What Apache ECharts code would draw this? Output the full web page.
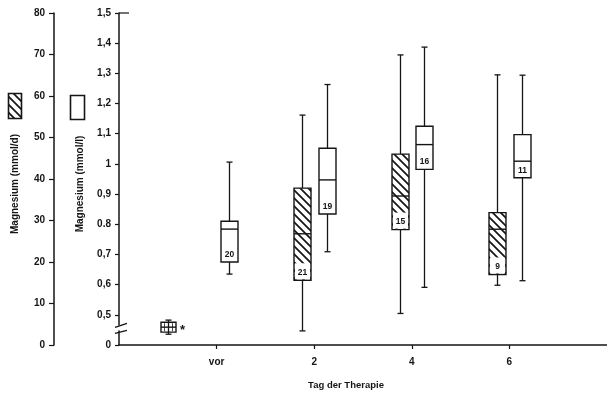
<!DOCTYPE html>
<html><head><meta charset="utf-8">
<script src="https://cdn.jsdelivr.net/npm/echarts@6/dist/echarts.min.js"></script>
<style>html,body{margin:0;padding:0;background:#fff}#c{width:607px;height:395px}</style>
</head><body><div id="c"></div>
<script>
// ---- data ----
const dayLabels = ['vor', '2', '4', '6'];
const dayPositions = [0, 1, 2, 3];
// hatched boxes: Magnesium (mmol/d)
const hatchedDays = [1, 2, 3];
const hatchedMin = [3.4, 7.6, 14.4];
const hatchedQ1 = [15.6, 27.8, 17.0];
const hatchedMedian = [26.8, 35.9, 27.9];
const hatchedQ3 = [37.8, 46.0, 31.9];
const hatchedMax = [55.4, 69.9, 65.1];
const hatchedN = [21, 15, 9];
// open boxes: Magnesium (mmol/l)
const openDays = [0, 1, 2, 3];
const openMin = [0.635, 0.709, 0.591, 0.613];
const openQ1 = [0.675, 0.834, 0.982, 0.954];
const openMedian = [0.784, 0.947, 1.064, 1.009];
const openQ3 = [0.81, 1.052, 1.125, 1.097];
const openMax = [1.006, 1.263, 1.387, 1.294];
const openN = [20, 19, 16, 11];
// reference box (mmol/d), marked *
const refPos = [-0.5];
const refMin = [2.6], refQ1 = [3.1], refMedian = [4.3], refQ3 = [5.5], refMax = [6.0];
// tick labels
const innerTickLabels = {4:'0',5:'0,5',6:'0,6',7:'0,7',8:'0.8',9:'0,9',10:'1',11:'1,1',12:'1,2',13:'1,3',14:'1,4',15:'1,5'};

const INK = '#151515';
const FONT = 'Liberation Sans';

function hatchPattern(){
  const c = document.createElement('canvas'); c.width = 8; c.height = 8;
  const g = c.getContext('2d'); g.fillStyle = '#fff'; g.fillRect(0,0,8,8);
  g.strokeStyle = INK; g.lineWidth = 1.7;
  g.beginPath();
  g.moveTo(-1,-1); g.lineTo(9,9);
  g.moveTo(-5,3); g.lineTo(5,13);
  g.moveTo(3,-5); g.lineTo(13,5);
  g.stroke();
  return {image: c, repeat: 'repeat'};
}
const HATCH = hatchPattern();

function makeRender(kind){
  return function(params, api){
    const off = kind === 'hatched' ? -0.125 : (kind === 'open' ? 0.13 : 0);
    const x = api.value(0) + off;
    const pMin = api.coord([x, api.value(1)]);
    const pQ1 = api.coord([x, api.value(2)]);
    const pMed = api.coord([x, api.value(3)]);
    const pQ3 = api.coord([x, api.value(4)]);
    const pMax = api.coord([x, api.value(5)]);
    const n = api.value(6);
    const w = kind === 'ref' ? 15 : 17;
    const cx = Math.round(pMin[0]) + 0.5, half = w / 2, cap = 3;
    const ls = {stroke: INK, lineWidth: 1.3};
    const ch = [
      {type:'line', shape:{x1:cx,y1:pMax[1],x2:cx,y2:pQ3[1]}, style:ls},
      {type:'line', shape:{x1:cx,y1:pQ1[1],x2:cx,y2:pMin[1]}, style:ls},
      {type:'line', shape:{x1:cx-cap,y1:pMax[1],x2:cx+cap,y2:pMax[1]}, style:ls},
      {type:'line', shape:{x1:cx-cap,y1:pMin[1],x2:cx+cap,y2:pMin[1]}, style:ls},
      {type:'rect', shape:{x:cx-half, y:pQ3[1], width:w, height:pQ1[1]-pQ3[1]},
        style:{fill: kind === 'hatched' ? HATCH : '#fff', stroke: INK, lineWidth: 1.4}}
    ];
    if (kind === 'hatched') {
      ch.push({type:'rect', shape:{x:cx-half+1, y:pQ1[1]-17, width:w-2, height:16}, style:{fill:'#fff'}});
    }
    ch.push({type:'line', shape:{x1:cx-half,y1:pMed[1],x2:cx+half,y2:pMed[1]}, style:{stroke: INK, lineWidth: 1.4}});
    if (kind === 'ref') {
      ch.push({type:'line', shape:{x1:cx,y1:pQ3[1],x2:cx,y2:pQ1[1]}, style:ls});
      ch.push({type:'line', shape:{x1:cx-half+3.5,y1:pQ3[1]+1,x2:cx-half+3.5,y2:pQ1[1]-1}, style:{stroke:INK,lineWidth:0.8}});
      ch.push({type:'line', shape:{x1:cx+half-3.5,y1:pQ3[1]+1,x2:cx+half-3.5,y2:pQ1[1]-1}, style:{stroke:INK,lineWidth:0.8}});
      ch.push({type:'text', style:{text:'*', x:cx+14, y:pMed[1]+3, align:'center', verticalAlign:'middle', fontSize:13, fontWeight:'bold', fontFamily:FONT, fill:INK}});
    }
    if (n) {
      ch.push({type:'text', style:{text:String(n), x:cx, y:pQ1[1]-3, align:'center', verticalAlign:'bottom',
        fontSize:8.5, fontWeight:'bold', fontFamily:FONT, fill:INK}});
    }
    return {type:'group', children: ch};
  };
}

const hatchedData = hatchedDays.map((d,i)=>[d, hatchedMin[i], hatchedQ1[i], hatchedMedian[i], hatchedQ3[i], hatchedMax[i], hatchedN[i]]);
const openData = openDays.map((d,i)=>[d, openMin[i], openQ1[i], openMedian[i], openQ3[i], openMax[i], openN[i]]);
const refData = refPos.map((d,i)=>[d, refMin[i], refQ1[i], refMedian[i], refQ3[i], refMax[i], 0]);

const chart = echarts.init(document.getElementById('c'), null, {renderer:'canvas'});
const labelStyle = {color: INK, fontSize: 10, fontWeight: 'bold', fontFamily: FONT};
chart.setOption({
  animation: false,
  backgroundColor: '#fff',
  grid: {left: 119, right: 0, top: 13, bottom: 49},
  xAxis: {
    type: 'value', min: -1, max: 4, interval: 1,
    axisLine: {show: true, onZero: false, lineStyle: {color: INK, width: 1.5}},
    axisTick: {show: true, customValues: dayPositions, length: 4, lineStyle: {color: INK, width: 1.2}},
    axisLabel: Object.assign({customValues: dayPositions, margin: 12, formatter: v => dayLabels[dayPositions.indexOf(Math.round(v))]}, labelStyle),
    splitLine: {show: false},
    name: 'Tag der Therapie', nameLocation: 'middle', nameGap: 35,
    nameTextStyle: {color: INK, fontSize: 9.5, fontWeight: 'bold', fontFamily: FONT, padding: [0, 34, 0, 0]}
  },
  yAxis: [
    {
      type: 'value', position: 'left', min: 0.4, max: 1.5, interval: 0.1,
      axisLine: {show: true, onZero: false, lineStyle: {color: INK, width: 1.5}},
      axisTick: {show: true, length: 4, lineStyle: {color: INK, width: 1.2}},
      axisLabel: Object.assign({margin: 8, formatter: v => innerTickLabels[Math.round(v*10)] || ''}, labelStyle),
      splitLine: {show: false},
      name: 'Magnesium (mmol/l)', nameLocation: 'middle', nameGap: 34, nameRotate: 90,
      nameTextStyle: {color: INK, fontSize: 10, fontWeight: 'bold', fontFamily: FONT, padding: [0, 10, 0, 0]}
    },
    {
      type: 'value', position: 'left', offset: 65, min: 0, max: 80, interval: 10,
      axisLine: {show: true, onZero: false, lineStyle: {color: INK, width: 1.5}},
      axisTick: {show: true, length: 5, lineStyle: {color: INK, width: 1.2}},
      axisLabel: Object.assign({margin: 9}, labelStyle),
      splitLine: {show: false},
      name: 'Magnesium (mmol/d)', nameLocation: 'middle', nameGap: 34, nameRotate: 90,
      nameTextStyle: {color: INK, fontSize: 10, fontWeight: 'bold', fontFamily: FONT, padding: [0, 10, 0, 0]}
    }
  ],
  series: [
    {type: 'custom', name: 'mmol/d', xAxisIndex: 0, yAxisIndex: 1, renderItem: makeRender('hatched'), data: hatchedData, clip: false, z: 3},
    {type: 'custom', name: 'mmol/l', xAxisIndex: 0, yAxisIndex: 0, renderItem: makeRender('open'), data: openData, clip: false, z: 3},
    {type: 'custom', name: 'Referenz', xAxisIndex: 0, yAxisIndex: 1, renderItem: makeRender('ref'), data: refData, clip: false, z: 3}
  ]
});

// axis break marks, top cap lines and legend symbols
const bx = chart.convertToPixel({xAxisIndex: 0}, -1);
const by = chart.convertToPixel({yAxisIndex: 0}, 0.455);
const topY = chart.convertToPixel({yAxisIndex: 0}, 1.5);
chart.setOption({
  graphic: [
    {type: 'rect', z: 100, shape: {x: bx - 3, y: by - 3, width: 6, height: 5}, style: {fill: '#fff'}},
    {type: 'line', z: 101, shape: {x1: bx - 4, y1: by - 1, x2: bx + 8, y2: by - 5}, style: {stroke: INK, lineWidth: 1.4}},
    {type: 'line', z: 101, shape: {x1: bx - 4, y1: by + 5, x2: bx + 8, y2: by + 2}, style: {stroke: INK, lineWidth: 1.4}},
    {type: 'line', z: 101, shape: {x1: bx, y1: topY, x2: bx + 10, y2: topY}, style: {stroke: INK, lineWidth: 1.2}},
    {type: 'rect', z: 100, shape: {x: 8.5, y: 93.5, width: 13, height: 25}, style: {fill: HATCH, stroke: INK, lineWidth: 1.6}},
    {type: 'rect', z: 100, shape: {x: 70.5, y: 95.5, width: 14, height: 24}, style: {fill: '#fff', stroke: INK, lineWidth: 1.6}}
  ]
});
</script></body></html>
